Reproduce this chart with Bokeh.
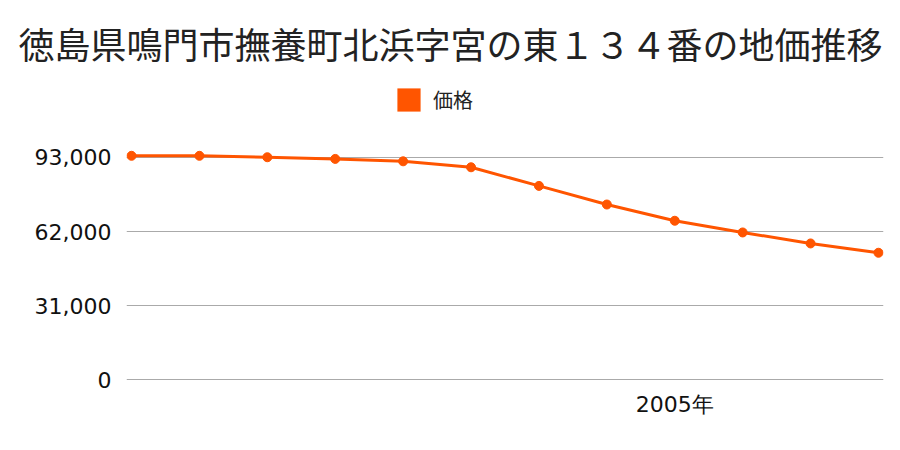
from bokeh.plotting import figure
from bokeh.layouts import column
from bokeh.models import (FixedTicker, NumeralTickFormatter, Range1d, Legend, LegendItem, Label)
from bokeh.embed import file_html
from bokeh.resources import INLINE

years = [1997, 1998, 1999, 2000, 2001, 2002, 2003, 2004, 2005, 2006, 2007, 2008]
prices = [93700, 93700, 93100, 92400, 91400, 88900, 81100, 73300, 66500, 61600, 57000, 53100]
y_ticks = [0, 31000, 62000, 93000]
x_ticks = [2005]
x_labels = {2005: "2005年"}
title_text = "徳島県鳴門市撫養町北浜字宮の東１３４番の地価推移"
series_name = "価格"
color = "#ff5500"

# header: title + legend
head = figure(width=900, height=125, output_backend="svg", toolbar_location=None,
              x_range=Range1d(0, 1), y_range=Range1d(0, 1),
              x_axis_type=None, y_axis_type=None, min_border=0)
head.frame_align = False
head.outline_line_color = None
head.xgrid.visible = False
head.ygrid.visible = False
sq = head.quad(left=[5], right=[6], top=[5], bottom=[4], fill_color=color, line_color=None)
head.add_layout(Label(x=450, y=83, x_units="screen", y_units="screen", text=title_text,
                      text_align="center", text_baseline="middle", text_font="Noto Sans CJK JP",
                      text_font_size="36px", text_color="#222222"))
legend = Legend(items=[LegendItem(label=series_name, renderers=[sq])], location=(394, 11),
                orientation="horizontal", border_line_color=None, background_fill_alpha=0,
                label_text_font="Noto Sans CJK JP", label_text_font_size="20px",
                label_text_color="#222222",
                glyph_width=29, glyph_height=29, label_standoff=10, padding=0, margin=0)
head.add_layout(legend)

# chart (frame padded by 5px on each side so end markers are not clipped)
p = figure(width=900, height=325, output_backend="svg", toolbar_location=None,
           x_range=Range1d(1996.926, 2008.074), y_range=Range1d(-400, 104300),
           min_border_left=126, min_border_right=17, min_border_bottom=70, min_border_top=5)
p.frame_align = False

p.line(years, prices, line_color=color, line_width=3)
p.scatter(years, prices, size=9, fill_color=color, line_color=color)

p.outline_line_color = None
p.xgrid.grid_line_color = None
p.ygrid.grid_line_color = "#aaaaaa"
p.ygrid.grid_line_width = 1

p.yaxis.ticker = FixedTicker(ticks=y_ticks)
p.yaxis.formatter = NumeralTickFormatter(format="0,0")
p.yaxis.axis_line_color = None
p.yaxis.major_tick_line_color = None
p.yaxis.minor_tick_line_color = None
p.yaxis.major_label_text_font = "DejaVu Sans"
p.yaxis.major_label_text_font_size = "22px"
p.yaxis.major_label_text_color = "#111111"
p.yaxis.major_label_standoff = 9

p.xaxis.ticker = FixedTicker(ticks=x_ticks)
p.xaxis.major_label_overrides = x_labels
p.xaxis.axis_line_color = None
p.xaxis.major_tick_line_color = None
p.xaxis.minor_tick_line_color = None
p.xaxis.major_label_text_font = "DejaVu Sans"
p.xaxis.major_label_text_font_size = "22px"
p.xaxis.major_label_text_color = "#111111"
p.xaxis.major_label_standoff = 5

layout = column(head, p, spacing=0)
open("out.html", "w").write(file_html(layout, INLINE))
